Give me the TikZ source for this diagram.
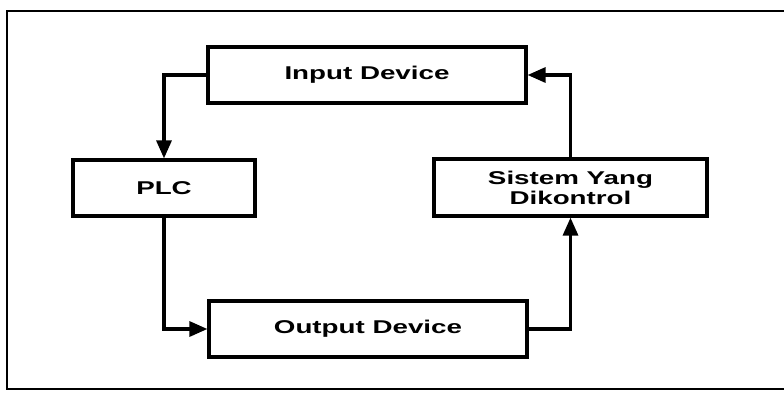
\documentclass[tikz,border=0pt]{standalone}
\usepackage{fontspec}
\usetikzlibrary{arrows.meta}
\newfontfamily\widefont{Liberation Sans}[FakeStretch=1.5]
\begin{document}
\begin{tikzpicture}[x=1pt,y=-1pt,
  blk/.style={draw, line width=3.2pt, rectangle, inner sep=0pt, align=center,
    font=\widefont\bfseries\fontsize{18.5}{20}\selectfont},
  conn/.style={line width=3.2pt, -{Triangle[length=18pt,width=15pt]}}]
\useasboundingbox (0,0) rectangle (784,392);
\draw[line width=2.8pt] (800,11) -- (7,11) -- (7,389) -- (800,389);
\node[blk, minimum width=318pt, minimum height=56pt] (in) at (367,75) {Input Device};
\node[blk, minimum width=182pt, minimum height=56pt] (plc) at (164,188) {PLC};
\node[blk, minimum width=273pt, minimum height=57pt] (sis) at (570.5,187.5) {Sistem Yang\\Dikontrol};
\node[blk, minimum width=318pt, minimum height=56pt] (out) at (368,329) {Output Device};
\draw[conn] (in.west) -| (plc.north);
\draw[conn] (plc.south) |- (out.west);
\draw[conn] (out.east) -| (sis.south);
\draw[conn] (sis.north) |- (in.east);
\end{tikzpicture}
\end{document}
